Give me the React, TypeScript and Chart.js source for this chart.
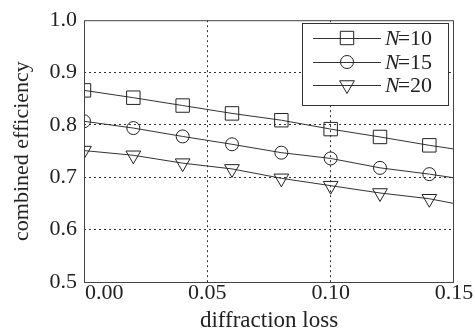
import React, { useEffect, useRef } from "react";
import { Chart, registerables } from "chart.js";

Chart.register(...registerables);

const xValues = [0.0, 0.02, 0.04, 0.06, 0.08, 0.1, 0.12, 0.14, 0.15];
const n10 = [0.866, 0.852, 0.837, 0.822, 0.809, 0.792, 0.777, 0.761, 0.754];
const n15 = [0.807, 0.794, 0.778, 0.763, 0.747, 0.736, 0.718, 0.706, 0.699];
const n20 = [0.751, 0.742, 0.727, 0.716, 0.698, 0.684, 0.67, 0.659, 0.65];
const seriesLabels = ["10", "15", "20"];
const xTicks = [0.0, 0.05, 0.1, 0.15];
const xTickLabels = ["0.00", "0.05", "0.10", "0.15"];
const yTitle = "combined efficiency";
const xTitle = "diffraction loss";

const SERIF = "'Liberation Serif', 'DejaVu Serif', serif";
const INK = "#222";

const styles = [
  { pointStyle: "rect", rotation: 0, radius: 9.5 },
  { pointStyle: "circle", rotation: 0, radius: 6.5 },
  { pointStyle: "triangle", rotation: 180, radius: 8.5 },
];

function makeDataset(values: number[], idx: number) {
  const st = styles[idx];
  return {
    label: "N=" + seriesLabels[idx],
    data: xValues.map((x, i) => ({ x, y: values[i] })),
    borderColor: "#333",
    borderWidth: 1,
    backgroundColor: "rgba(0,0,0,0)",
    pointStyle: st.pointStyle,
    rotation: st.rotation,
    pointRadius: xValues.map((_, i) => (i === xValues.length - 1 ? 0 : st.radius)),
    pointBorderColor: INK,
    pointBorderWidth: 1,
    pointBackgroundColor: "rgba(0,0,0,0)",
    tension: 0,
    fill: false,
  };
}

function drawMarker(ctx: CanvasRenderingContext2D, style: string, x: number, y: number, r: number) {
  ctx.beginPath();
  if (style === "rect") {
    const s = r * Math.SQRT1_2 * 2;
    ctx.rect(x - s / 2, y - s / 2, s, s);
  } else if (style === "circle") {
    ctx.arc(x, y, r, 0, Math.PI * 2);
  } else {
    ctx.moveTo(x, y + r);
    ctx.lineTo(x - r * Math.sin(Math.PI / 3), y - r / 2);
    ctx.lineTo(x + r * Math.sin(Math.PI / 3), y - r / 2);
    ctx.closePath();
  }
  ctx.stroke();
}

const framePlugin = {
  id: "frame",
  afterDraw(chart: any) {
    const { ctx, chartArea } = chart;
    const { left, right, top, bottom } = chartArea;
    ctx.save();
    ctx.strokeStyle = "#444";
    ctx.lineWidth = 1;
    ctx.setLineDash([]);
    ctx.strokeRect(left + 0.5, top + 0.5, right - left - 1, bottom - top);

    // x tick labels
    const xs = chart.scales.x;
    ctx.fillStyle = INK;
    ctx.font = `22px ${SERIF}`;
    ctx.textBaseline = "middle";
    xTicks.forEach((v, i) => {
      const px = xs.getPixelForValue(v);
      if (i === 0) {
        ctx.textAlign = "left";
        ctx.fillText(xTickLabels[i], px + 1, bottom + 11);
      } else {
        ctx.textAlign = "center";
        ctx.fillText(xTickLabels[i], px, bottom + 11);
      }
    });

    // legend
    const bx = 302,
      by = 23,
      bw = 146,
      bh = 82;
    ctx.fillStyle = "#fff";
    ctx.fillRect(bx, by, bw, bh);
    ctx.strokeStyle = "#333";
    ctx.strokeRect(bx + 0.5, by + 0.5, bw, bh);
    const rows = [38, 62, 85];
    chart.data.datasets.forEach((ds: any, i: number) => {
      const y = rows[i];
      ctx.strokeStyle = "#333";
      ctx.lineWidth = 1;
      ctx.beginPath();
      ctx.moveTo(313, y + 0.5);
      ctx.lineTo(381, y + 0.5);
      ctx.stroke();
      ctx.strokeStyle = INK;
      drawMarker(ctx, ds.pointStyle, 347, y, styles[i].radius);
      ctx.fillStyle = INK;
      ctx.textAlign = "left";
      ctx.textBaseline = "middle";
      ctx.font = `italic 22px ${SERIF}`;
      ctx.fillText("N", 385, y + 1);
      const w = ctx.measureText("N").width;
      ctx.font = `22px ${SERIF}`;
      ctx.fillText("=" + seriesLabels[i], 385 + w - 2, y + 1);
    });
    ctx.restore();
  },
};

export default function App() {
  const ref = useRef<HTMLCanvasElement | null>(null);
  useEffect(() => {
    document.body.style.margin = "0";
    if (!ref.current) return;
    const chart = new Chart(ref.current, {
      type: "line",
      data: {
        datasets: [makeDataset(n10, 0), makeDataset(n15, 1), makeDataset(n20, 2)],
      },
      options: {
        animation: false,
        responsive: true,
        maintainAspectRatio: false,
        layout: { padding: { top: 18, right: 21, left: 0, bottom: 0 } },
        plugins: { legend: { display: false }, tooltip: { enabled: false } },
        scales: {
          x: {
            type: "linear",
            min: 0,
            max: 0.15,
            afterFit: (s: any) => {
              s.height = 50;
            },
            afterBuildTicks: (s: any) => {
              s.ticks = xTicks.map((v) => ({ value: v }));
            },
            border: { display: false, dash: [2, 3] },
            grid: {
              color: (c: any) => {
                const v = c.tick?.value;
                if (v === undefined || v === 0 || v === 0.15) return "rgba(0,0,0,0)";
                return "#333";
              },
              drawTicks: false,
              lineWidth: 1,
            },
            ticks: { display: false },
            title: {
              display: true,
              text: xTitle,
              color: INK,
              font: { family: SERIF, size: 23, lineHeight: 1 },
              padding: { top: 0, bottom: 0 },
            },
          },
          y: {
            min: 0.5,
            max: 1.0,
            afterFit: (s: any) => {
              s.width = 84;
            },
            border: { display: false, dash: [2, 3] },
            grid: {
              color: (c: any) => {
                const v = c.tick?.value;
                if (v === undefined || Math.abs(v - 0.5) < 1e-9 || Math.abs(v - 1) < 1e-9)
                  return "rgba(0,0,0,0)";
                return "#333";
              },
              drawTicks: false,
              lineWidth: 1,
            },
            ticks: {
              stepSize: 0.1,
              padding: 7,
              color: INK,
              font: { family: SERIF, size: 22 },
              callback: (v: any) => Number(v).toFixed(1),
            },
            title: {
              display: true,
              text: yTitle,
              color: INK,
              font: { family: SERIF, size: 22, lineHeight: 1 },
              padding: { top: 11, bottom: 0 },
            },
          },
        },
      } as any,
      plugins: [framePlugin],
    });
    return () => chart.destroy();
  }, []);
  return (
    <div style={{ width: 475, height: 332, position: "relative" }}>
      <canvas ref={ref} />
    </div>
  );
}
